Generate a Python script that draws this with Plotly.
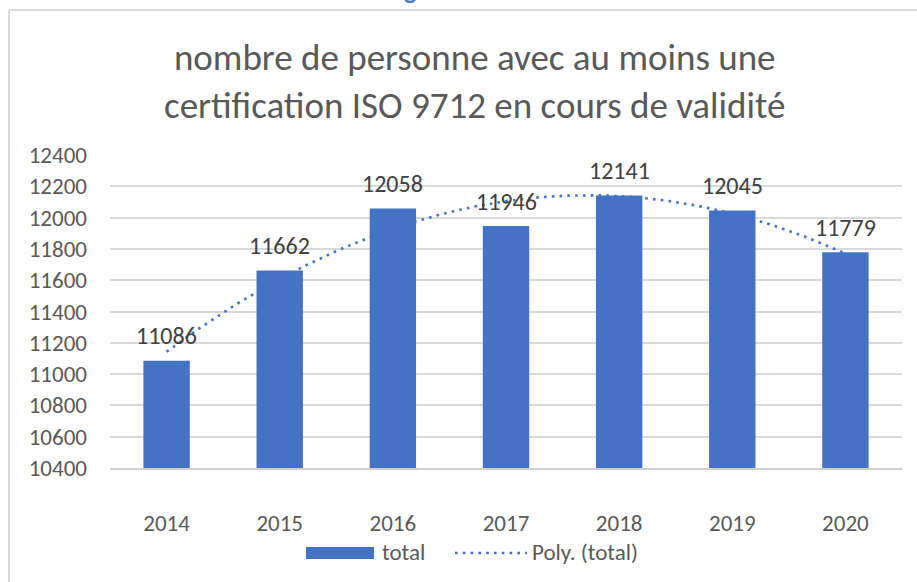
import numpy as np
import plotly.graph_objects as go

years = [2014, 2015, 2016, 2017, 2018, 2019, 2020]
totals = [11086, 11662, 12058, 11946, 12141, 12045, 11779]
title_lines = ["nombre de personne avec au moins une", "certification ISO 9712 en cours de validité"]
series_name = "total"
trend_name = "Poly. (total)"

BLUE = "#4472c4"
GREY = "#595959"
FONT = "Carlito, Lato, Liberation Sans, sans-serif"

# plot area in pixels
L, R, T, B = 110, 902, 155, 468
W, H = 917, 582

def px(x):
    return (x - L) / (R - L)

def py(y):
    return (B - y) / (B - T)

# order-2 polynomial trendline (as Excel "Poly." trendline)
idx = np.arange(len(years))
coef = np.polyfit(idx, totals, 2)
t = np.linspace(0, len(years) - 1, 200)
trend_x = years[0] + t
trend_y = np.polyval(coef, t)

fig = go.Figure()
fig.add_trace(go.Bar(x=years, y=totals, marker=dict(color=BLUE, line=dict(width=0)),
                     name=series_name, showlegend=False))
fig.add_trace(go.Scatter(x=trend_x, y=trend_y, mode="lines",
                         line=dict(color=BLUE, width=2.6, dash="2.6px,5.2px"),
                         name=trend_name, showlegend=False, hoverinfo="skip"))

annotations = []
for x, v in zip(years, totals):
    annotations.append(dict(x=x, y=v, xref="x", yref="y", text=str(v), showarrow=False,
                            yanchor="middle", yshift=25,
                            font=dict(family=FONT, size=24, color="#404040")))

# title
annotations.append(dict(x=px(474), y=py(81), xref="paper", yref="paper",
                        text="<br>".join(title_lines), showarrow=False,
                        xanchor="center", yanchor="middle",
                        font=dict(family=FONT, size=37, color=GREY)))

# custom legend
annotations.append(dict(x=px(380), y=py(552), xref="paper", yref="paper", text=series_name,
                        showarrow=False, xanchor="left", yanchor="middle",
                        font=dict(family=FONT, size=23, color=GREY)))
annotations.append(dict(x=px(530), y=py(552), xref="paper", yref="paper", text=trend_name,
                        showarrow=False, xanchor="left", yanchor="middle",
                        font=dict(family=FONT, size=23, color=GREY)))

# partially visible heading letter at the very top of the page
annotations.append(dict(x=px(410), y=py(8), xref="paper", yref="paper", text="<b>g</b>",
                        showarrow=False, xanchor="center", yanchor="bottom",
                        font=dict(family=FONT, size=26, color="#4a7ac4")))

shapes = [
    # chart frame (left and top edges visible)
    dict(type="line", xref="paper", yref="paper", x0=px(9), x1=px(W + 5), y0=py(10), y1=py(10),
         line=dict(color="#d9d9d9", width=2)),
    dict(type="line", xref="paper", yref="paper", x0=px(9), x1=px(9), y0=py(10), y1=py(W),
         line=dict(color="#d9d9d9", width=2)),
    # legend swatches
    dict(type="rect", xref="paper", yref="paper", x0=px(306), x1=px(374), y0=py(559), y1=py(547),
         fillcolor=BLUE, line=dict(width=0)),
    dict(type="line", xref="paper", yref="paper", x0=px(455), x1=px(527), y0=py(553), y1=py(553),
         line=dict(color=BLUE, width=2.6, dash="2.6px,5.2px")),
]

fig.update_layout(
    width=W, height=H,
    margin=dict(l=L, r=W - R, t=T, b=H - B, pad=0),
    paper_bgcolor="white", plot_bgcolor="white",
    bargap=0.59,
    showlegend=False,
    annotations=annotations,
    shapes=shapes,
    font=dict(family=FONT, color=GREY),
)
fig.update_xaxes(range=[2013.5, 2020.5], tickvals=years, ticktext=[str(y) for y in years],
                 showgrid=False, zeroline=False, showline=True, linecolor="#d0d0d0", linewidth=2,
                 ticks="", ticklabelstandoff=33, tickfont=dict(family=FONT, size=23, color=GREY),
                 fixedrange=True)
fig.update_yaxes(range=[10400, 12400], dtick=200, tickformat="d", showgrid=True,
                 gridcolor="#d9d9d9", gridwidth=1.5,
                 zeroline=False, showline=False, ticks="", ticklabelstandoff=22,
                 tickfont=dict(family=FONT, size=23, color=GREY), fixedrange=True)

fig.write_html("out.html", config={"displayModeBar": False},
               post_script="document.body.style.margin='0';document.body.style.overflow='hidden';")
